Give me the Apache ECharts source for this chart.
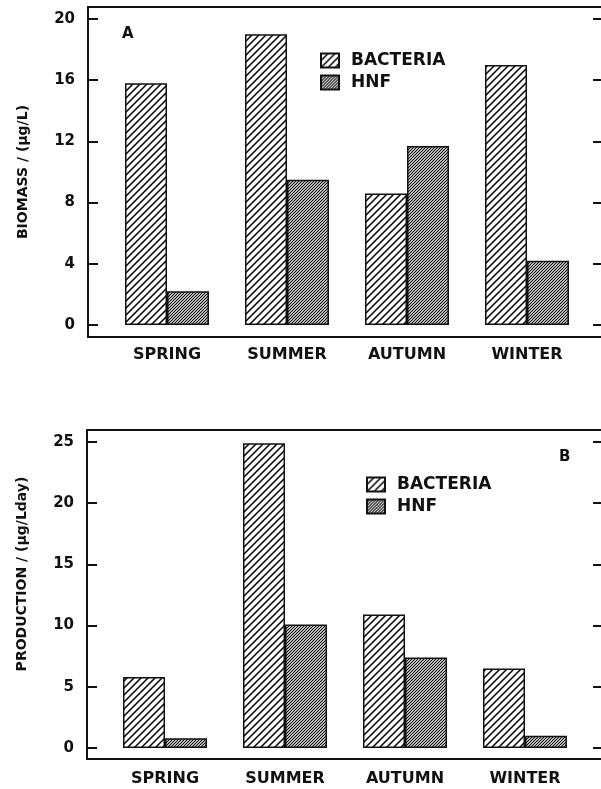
<!DOCTYPE html>
<html>
<head>
<meta charset="utf-8">
<script src="https://cdn.jsdelivr.net/npm/echarts@6/dist/echarts.min.js"></script>
<style>
html,body{margin:0;padding:0;background:#fff;}
#c{width:601px;height:789px;}
</style>
</head>
<body>
<div id="c"></div>
<script>
// ---- data ----
const seasons = ['SPRING', 'SUMMER', 'AUTUMN', 'WINTER'];
const seriesNames = ['BACTERIA', 'HNF'];
const biomassBacteria = [15.8, 19.0, 8.6, 17.0];
const biomassHNF = [2.2, 9.5, 11.7, 4.2];
const productionBacteria = [5.8, 24.9, 10.9, 6.5];
const productionHNF = [0.8, 10.1, 7.4, 1.0];
const biomassTicks = {min: 0, max: 20, interval: 4};
const productionTicks = {min: 0, max: 25, interval: 5};
const biomassAxisName = 'BIOMASS / (µg/L)';
const productionAxisName = 'PRODUCTION / (µg/Lday)';

// ---- hatch patterns ----
function hatch(size, lw) {
  const c = document.createElement('canvas');
  c.width = size; c.height = size;
  const g = c.getContext('2d');
  g.fillStyle = '#fff'; g.fillRect(0, 0, size, size);
  g.strokeStyle = '#000'; g.lineWidth = lw;
  g.beginPath();
  g.moveTo(0, size); g.lineTo(size, 0);
  g.moveTo(-size, size); g.lineTo(size, -size);
  g.moveTo(0, 2 * size); g.lineTo(2 * size, 0);
  g.stroke();
  return {image: c, repeat: 'repeat'};
}
const sparse = hatch(7, 1.5);
const dense = hatch(3, 1.1);

const FONT = 'DejaVu Sans';
const black = '#111';

const chart = echarts.init(document.getElementById('c'), null, {renderer: 'canvas'});

function barSeries(name, data, xi, yi, fill) {
  return {
    type: 'bar', name: name, data: data, xAxisIndex: xi, yAxisIndex: yi,
    barGap: '0%', barCategoryGap: '30%',
    itemStyle: {color: fill, borderColor: black, borderWidth: 1.5},
    emphasis: {disabled: true}, animation: false
  };
}

// frame axes (draw the box lines: top, bottom, left)
const frameLine = {show: true, lineStyle: {color: black, width: 2}};
const frameX = (gi, pos) => ({type: 'value', gridIndex: gi, position: pos, min: 0, max: 1,
  axisLine: frameLine, axisTick: {show: false}, axisLabel: {show: false}, splitLine: {show: false}});
const frameY = gi => ({type: 'value', gridIndex: gi, position: 'left', min: 0, max: 1,
  axisLine: frameLine, axisTick: {show: false}, axisLabel: {show: false}, splitLine: {show: false}});

function catX(gi, off, margin) {
  return {
    type: 'category', gridIndex: gi, data: seasons, offset: off,
    axisLine: {show: false}, axisTick: {show: false},
    axisLabel: {margin: margin, color: black, fontFamily: FONT, fontWeight: 'bold', fontSize: 16}
  };
}
function leftY(gi, t, off, name, pad) {
  return {
    type: 'value', gridIndex: gi, position: 'left', offset: off,
    min: t.min, max: t.max, interval: t.interval,
    axisLine: {show: false},
    axisTick: {show: true, inside: true, length: 10, lineStyle: {color: black, width: 2}},
    axisLabel: {margin: 13, color: black, fontFamily: FONT, fontWeight: 'bold', fontSize: 15},
    splitLine: {show: false},
    name: name, nameLocation: 'middle', nameRotate: 90, nameGap: 58,
    nameTextStyle: {color: black, fontFamily: FONT, fontWeight: 'bold', fontSize: 14, padding: pad}
  };
}
function rightY(gi, t, off) {
  return {
    type: 'value', gridIndex: gi, position: 'right', offset: off,
    min: t.min, max: t.max, interval: t.interval,
    axisLine: {show: false},
    axisTick: {show: true, inside: true, length: 9, lineStyle: {color: black, width: 2}},
    axisLabel: {show: false}, splitLine: {show: false}
  };
}
function legend(left, top) {
  return {
    data: seriesNames, orient: 'vertical', left: left, top: top,
    itemWidth: 18, itemHeight: 14, itemGap: 5, icon: 'rect', selectedMode: false,
    textStyle: {color: black, fontFamily: FONT, fontWeight: 'bold', fontSize: 17, padding: [0, 0, 0, 7]}
  };
}

const option = {
  animation: false,
  backgroundColor: '#fff',
  title: [
    {text: 'A', left: 117, top: 22, textStyle: {fontFamily: FONT, fontWeight: 'bold', fontSize: 15, color: black}},
    {text: 'B', left: 554, top: 445, textStyle: {fontFamily: FONT, fontWeight: 'bold', fontSize: 15, color: black}}
  ],
  legend: [legend(315, 47), legend(361, 471)],
  grid: [
    {left: 88, right: -10, top: 7, bottom: 452},
    {left: 107, right: 14, top: 19, bottom: 464},
    {left: 87, right: -10, top: 430, bottom: 30},
    {left: 105, right: 16, top: 442, bottom: 41}
  ],
  xAxis: [frameX(0, 'bottom'), frameX(0, 'top'), catX(1, 12, 10), frameX(2, 'bottom'), frameX(2, 'top'), catX(3, 11, 12)],
  yAxis: [
    frameY(0),
    leftY(1, biomassTicks, 19, biomassAxisName, [0, 0, 0, 0]),
    rightY(1, biomassTicks, 15),
    frameY(2),
    leftY(3, productionTicks, 18, productionAxisName, [0, 0, 0, 42]),
    rightY(3, productionTicks, 17)
  ],
  series: [
    barSeries(seriesNames[0], biomassBacteria, 2, 1, sparse),
    barSeries(seriesNames[1], biomassHNF, 2, 1, dense),
    barSeries(seriesNames[0], productionBacteria, 5, 4, sparse),
    barSeries(seriesNames[1], productionHNF, 5, 4, dense)
  ]
};
chart.setOption(option);
</script>
</body>
</html>
